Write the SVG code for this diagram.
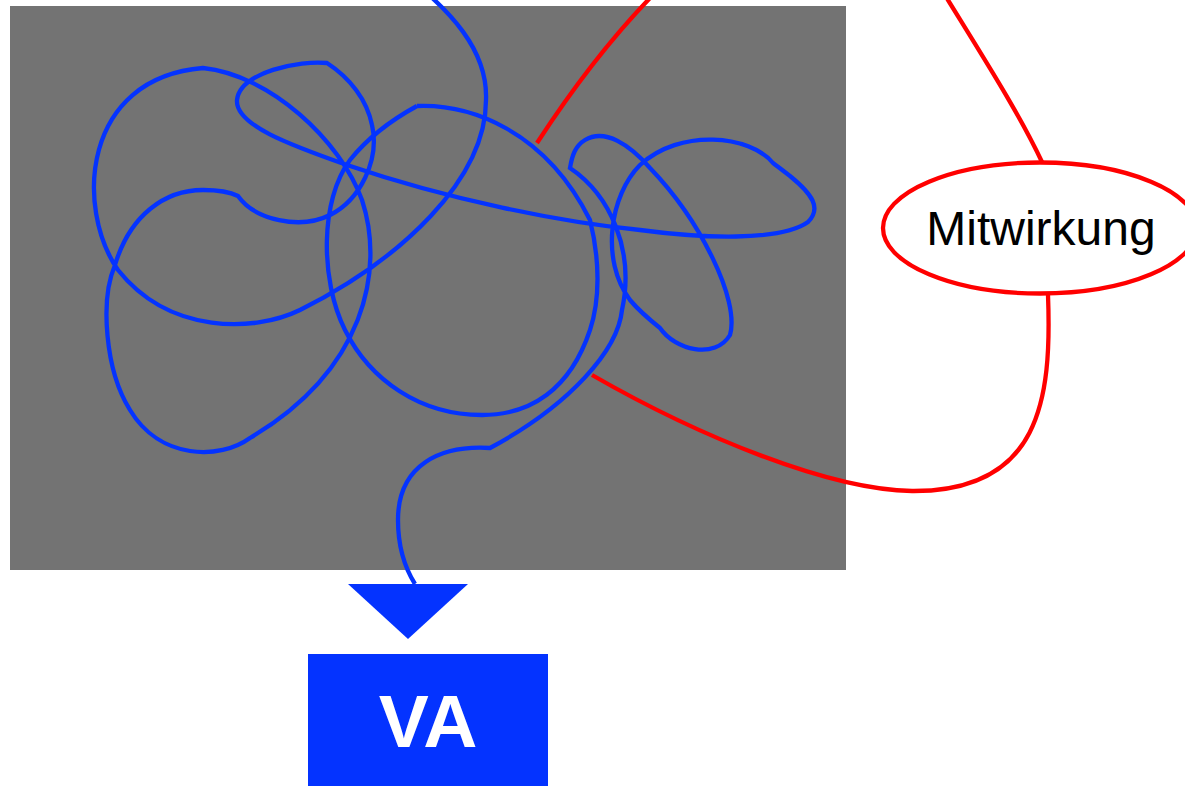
<svg xmlns="http://www.w3.org/2000/svg" width="1185" height="786" viewBox="0 0 1185 786">
<style>
.blue{fill:none;stroke:#0433ff;stroke-width:4.3;stroke-linejoin:miter}
.red{fill:none;stroke:#ff0000;stroke-width:4.3}
.lbl{font-family:"Liberation Sans",Arial,sans-serif}
</style>
<rect width="1185" height="786" fill="#ffffff"/>
<g id="node-area">
<rect x="10" y="6" width="836" height="564" fill="#737373"/>
</g>
<g id="node-circle">
<path class="blue" d="M417,106 C470,104 545,130 590,220 C600,260 600,300 590,330 C570,390 530,415 482,415 C420,415 370,380 345,330 C320,280 320,200 350,160 C370,135 395,118 417,106"/>
</g>
<g id="node-mitwirkung">
<ellipse cx="1040" cy="228" rx="157" ry="65.5" fill="#ffffff" stroke="#ff0000" stroke-width="4.3"/>
<text class="lbl" x="1041" y="245" font-size="48" text-anchor="middle" fill="#000000">Mitwirkung</text>
</g>
<g id="node-va">
<rect x="308" y="654" width="240" height="140" fill="#0433ff"/>
<text class="lbl" x="428" y="747" font-size="75" font-weight="bold" text-anchor="middle" fill="#ffffff">VA</text>
</g>
<g id="connectors">
<path class="red" d="M537,143 C565,100 600,50 650,-2 C720,-75 880,-110 948,0 C985,60 1020,115 1042,162"/>
<path class="red" d="M1048,295 C1052,400 1040,492 912,491 C830,490 700,437 592,375"/>
<path class="blue" d="M405,-25 C450,10 488,50 486,100 C486,180 400,260 300,310 C255,332 170,335 118,270 C75,208 82,78 203,68 C270,75 340,140 362,200 C385,270 365,370 250,438 C220,460 160,460 130,410 C105,370 100,300 115,265 C130,215 165,190 203,190 C218,190 230,192 238,196 C255,220 300,230 330,215 C360,200 380,160 372,125 C367,100 350,78 327,63 C300,60 240,72 237,100 C235,125 290,145 347,165 C450,200 560,222 640,230 C700,238 780,242 808,222 C822,208 812,194 790,176 C782,170 777,166 773,163 C750,135 680,128 640,165 C610,195 600,260 630,300 C640,312 650,320 660,328 C675,350 715,360 730,335 C740,300 700,220 650,168 C630,145 605,128 585,140 C575,146 572,156 570,168 C610,195 635,250 622,310 C618,350 570,405 490,448 C440,445 398,465 398,520 C398,548 405,568 415,584"/>
<polygon points="348,584 468,584 408,639" fill="#0433ff"/>
</g>
</svg>
